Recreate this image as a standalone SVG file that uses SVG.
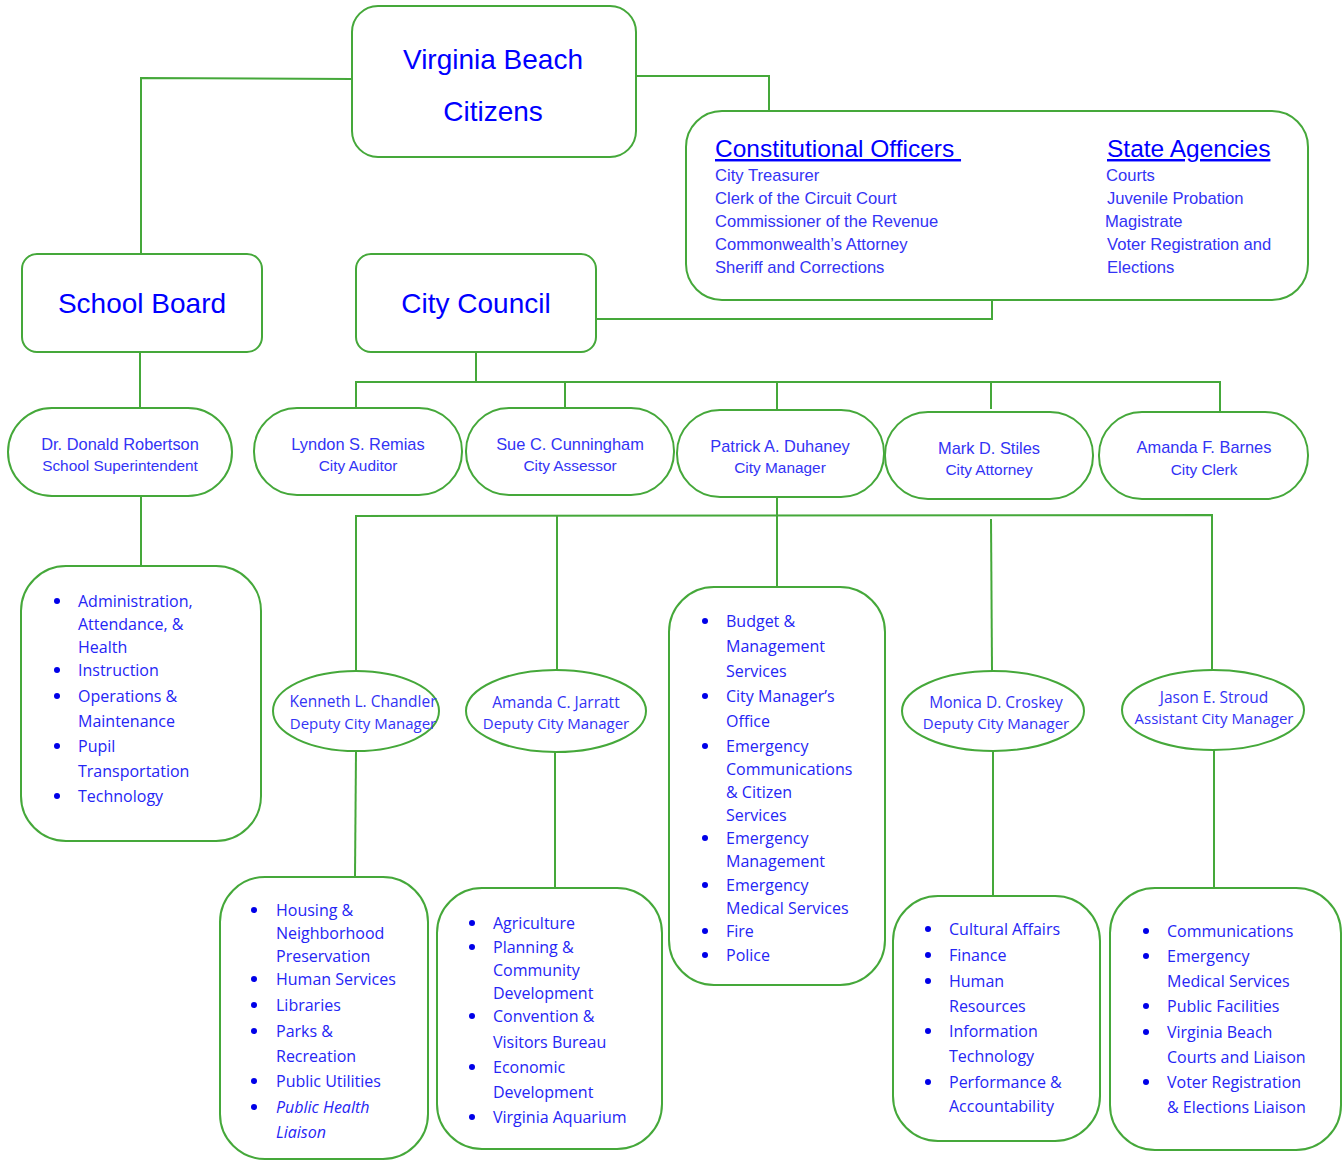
<svg xmlns="http://www.w3.org/2000/svg" width="1344" height="1160" viewBox="0 0 1344 1160">
<style>
.box{fill:#fff;stroke:#45A83A;stroke-width:2}
.ln{fill:none;stroke:#45A83A;stroke-width:2}
.big{font-family:"Liberation Sans",Arial,sans-serif;font-size:28px;fill:#0000FF;text-anchor:middle}
.hd{font-family:"Liberation Sans",Arial,sans-serif;font-size:24.5px;fill:#0000FF;text-decoration:underline}
.co{font-family:"Liberation Sans",Arial,sans-serif;font-size:16.6px;fill:#3333F5}
.nm{font-family:"Liberation Sans",Arial,sans-serif;font-size:16.4px;fill:#3333F5;text-anchor:middle}
.tt{font-family:"Liberation Sans",Arial,sans-serif;font-size:15.4px;fill:#3333F5;text-anchor:middle}
.en{font-family:"Open Sans",sans-serif;font-size:15.5px;fill:#3333F5;text-anchor:middle}
.et{font-family:"Open Sans",sans-serif;font-size:15px;fill:#3333F5;text-anchor:middle}
.li{font-family:"Open Sans",sans-serif;font-size:16px;fill:#2525F5}
.it{font-style:italic}
.bu{fill:#0000E8}
</style>
<g id="connectors">
<polyline class="ln" points="352,79 141,78 141,254"/>
<polyline class="ln" points="636,76 769,76 769,111"/>
<polyline class="ln" points="596,319 992,319 992,300"/>
<line class="ln" x1="140" y1="352" x2="140" y2="408"/>
<line class="ln" x1="141" y1="496" x2="141" y2="566"/>
<line class="ln" x1="476" y1="352" x2="476" y2="382"/>
<line class="ln" x1="355" y1="382" x2="1221" y2="382"/>
<line class="ln" x1="356" y1="382" x2="356" y2="408"/>
<line class="ln" x1="565" y1="382" x2="565" y2="408"/>
<line class="ln" x1="777" y1="382" x2="777" y2="410"/>
<line class="ln" x1="991" y1="382" x2="991" y2="409"/>
<line class="ln" x1="1220" y1="382" x2="1220" y2="412"/>
<line class="ln" x1="777" y1="497" x2="777" y2="587"/>
<polyline class="ln" points="356,671 356,516 1212,515 1212,671"/>
<line class="ln" x1="557" y1="516" x2="557" y2="670"/>
<line class="ln" x1="991" y1="519" x2="992" y2="671"/>
<line class="ln" x1="356" y1="751" x2="355" y2="877"/>
<line class="ln" x1="555" y1="752" x2="555" y2="888"/>
<line class="ln" x1="993" y1="750" x2="993" y2="896"/>
<line class="ln" x1="1214" y1="750" x2="1214" y2="888"/>
</g>
<g id="citizens">
<rect class="box" x="352" y="6" width="284" height="151" rx="26"/>
<text class="big" x="493" y="69">Virginia Beach</text>
<text class="big" x="493" y="121">Citizens</text>
</g>
<g id="constitutional">
<rect class="box" x="686" y="111" width="622" height="189" rx="36"/>
<text class="hd" x="715" y="157" xml:space="preserve">Constitutional Officers </text>
<text class="co" x="715" y="181">City Treasurer</text>
<text class="co" x="715" y="204">Clerk of the Circuit Court</text>
<text class="co" x="715" y="227">Commissioner of the Revenue</text>
<text class="co" x="715" y="250">Commonwealth’s Attorney</text>
<text class="co" x="715" y="273">Sheriff and Corrections</text>
<text class="hd" x="1107" y="157">State Agencies</text>
<text class="co" x="1106" y="181">Courts</text>
<text class="co" x="1107" y="204">Juvenile Probation</text>
<text class="co" x="1105" y="227">Magistrate</text>
<text class="co" x="1107" y="250">Voter Registration and</text>
<text class="co" x="1107" y="273">Elections</text>
</g>
<g id="school-board">
<rect class="box" x="22" y="254" width="240" height="98" rx="15"/>
<text class="big" x="142" y="313">School Board</text>
</g>
<g id="city-council">
<rect class="box" x="356" y="254" width="240" height="98" rx="15"/>
<text class="big" x="476" y="313">City Council</text>
</g>
<g id="superintendent">
<rect class="box" x="8" y="408" width="224" height="88" rx="44"/>
<text class="nm" x="120" y="450">Dr. Donald Robertson</text>
<text class="tt" x="120" y="471">School Superintendent</text>
</g>
<g id="auditor">
<rect class="box" x="254" y="408" width="208" height="87" rx="43"/>
<text class="nm" x="358" y="450">Lyndon S. Remias</text>
<text class="tt" x="358" y="471">City Auditor</text>
</g>
<g id="assessor">
<rect class="box" x="466" y="408" width="208" height="87" rx="43"/>
<text class="nm" x="570" y="450">Sue C. Cunningham</text>
<text class="tt" x="570" y="471">City Assessor</text>
</g>
<g id="manager">
<rect class="box" x="677" y="410" width="207" height="87" rx="43"/>
<text class="nm" x="780" y="452">Patrick A. Duhaney</text>
<text class="tt" x="780" y="473">City Manager</text>
</g>
<g id="attorney">
<rect class="box" x="885" y="412" width="208" height="87" rx="43"/>
<text class="nm" x="989" y="454">Mark D. Stiles</text>
<text class="tt" x="989" y="475">City Attorney</text>
</g>
<g id="clerk">
<rect class="box" x="1099" y="412" width="209" height="87" rx="43"/>
<text class="nm" x="1204" y="453">Amanda F. Barnes</text>
<text class="tt" x="1204" y="475">City Clerk</text>
</g>
<g id="school-list">
<rect class="box" x="21" y="566" width="240" height="275" rx="45"/>
<circle class="bu" cx="57" cy="601" r="3"/><circle class="bu" cx="57" cy="670" r="3"/><circle class="bu" cx="57" cy="696" r="3"/><circle class="bu" cx="57" cy="746" r="3"/><circle class="bu" cx="57" cy="796" r="3"/>
<text class="li" x="78" y="607">Administration,</text>
<text class="li" x="78" y="630">Attendance, &amp;</text>
<text class="li" x="78" y="653">Health</text>
<text class="li" x="78" y="676">Instruction</text>
<text class="li" x="78" y="702">Operations &amp;</text>
<text class="li" x="78" y="727">Maintenance</text>
<text class="li" x="78" y="752">Pupil</text>
<text class="li" x="78" y="777">Transportation</text>
<text class="li" x="78" y="802">Technology</text>
</g>
<g id="chandler">
<ellipse class="box" cx="356" cy="711" rx="83" ry="40"/>
<text class="en" x="363" y="707">Kenneth L. Chandler</text>
<text class="et" x="363" y="729">Deputy City Manager</text>
</g>
<g id="jarrett">
<ellipse class="box" cx="556" cy="711" rx="90" ry="41"/>
<text class="en" x="556" y="708">Amanda C. Jarratt</text>
<text class="et" x="556" y="729">Deputy City Manager</text>
</g>
<g id="croskey">
<ellipse class="box" cx="993" cy="711" rx="91" ry="40"/>
<text class="en" x="996" y="708">Monica D. Croskey</text>
<text class="et" x="996" y="729">Deputy City Manager</text>
</g>
<g id="stroud">
<ellipse class="box" cx="1213" cy="710" rx="91" ry="40"/>
<text class="en" x="1214" y="703">Jason E. Stroud</text>
<text class="et" x="1214" y="724">Assistant City Manager</text>
</g>
<g id="cm-list">
<rect class="box" x="669" y="587" width="216" height="398" rx="45"/>
<circle class="bu" cx="705" cy="621" r="3"/><circle class="bu" cx="705" cy="696" r="3"/><circle class="bu" cx="705" cy="746" r="3"/><circle class="bu" cx="705" cy="838" r="3"/><circle class="bu" cx="705" cy="885" r="3"/><circle class="bu" cx="705" cy="931" r="3"/><circle class="bu" cx="705" cy="955" r="3"/>
<text class="li" x="726" y="627">Budget &amp;</text>
<text class="li" x="726" y="652">Management</text>
<text class="li" x="726" y="677">Services</text>
<text class="li" x="726" y="702">City Manager’s</text>
<text class="li" x="726" y="727">Office</text>
<text class="li" x="726" y="752">Emergency</text>
<text class="li" x="726" y="775">Communications</text>
<text class="li" x="726" y="798">&amp; Citizen</text>
<text class="li" x="726" y="821">Services</text>
<text class="li" x="726" y="844">Emergency</text>
<text class="li" x="726" y="867">Management</text>
<text class="li" x="726" y="891">Emergency</text>
<text class="li" x="726" y="914">Medical Services</text>
<text class="li" x="726" y="937">Fire</text>
<text class="li" x="726" y="961">Police</text>
</g>
<g id="chandler-list">
<rect class="box" x="220" y="877" width="208" height="282" rx="45"/>
<circle class="bu" cx="254" cy="910" r="3"/><circle class="bu" cx="254" cy="979" r="3"/><circle class="bu" cx="254" cy="1005" r="3"/><circle class="bu" cx="254" cy="1031" r="3"/><circle class="bu" cx="254" cy="1081" r="3"/><circle class="bu" cx="254" cy="1107" r="3"/>
<text class="li" x="276" y="916">Housing &amp;</text>
<text class="li" x="276" y="939">Neighborhood</text>
<text class="li" x="276" y="962">Preservation</text>
<text class="li" x="276" y="985">Human Services</text>
<text class="li" x="276" y="1011">Libraries</text>
<text class="li" x="276" y="1037">Parks &amp;</text>
<text class="li" x="276" y="1062">Recreation</text>
<text class="li" x="276" y="1087">Public Utilities</text>
<text class="li it" x="276" y="1113">Public Health</text>
<text class="li it" x="276" y="1138">Liaison</text>
</g>
<g id="jarrett-list">
<rect class="box" x="437" y="888" width="225" height="261" rx="45"/>
<circle class="bu" cx="472" cy="923" r="3"/><circle class="bu" cx="472" cy="947" r="3"/><circle class="bu" cx="472" cy="1016" r="3"/><circle class="bu" cx="472" cy="1067" r="3"/><circle class="bu" cx="472" cy="1117" r="3"/>
<text class="li" x="493" y="929">Agriculture</text>
<text class="li" x="493" y="953">Planning &amp;</text>
<text class="li" x="493" y="976">Community</text>
<text class="li" x="493" y="999">Development</text>
<text class="li" x="493" y="1022">Convention &amp;</text>
<text class="li" x="493" y="1048">Visitors Bureau</text>
<text class="li" x="493" y="1073">Economic</text>
<text class="li" x="493" y="1098">Development</text>
<text class="li" x="493" y="1123">Virginia Aquarium</text>
</g>
<g id="croskey-list">
<rect class="box" x="893" y="896" width="207" height="245" rx="45"/>
<circle class="bu" cx="928" cy="929" r="3"/><circle class="bu" cx="928" cy="955" r="3"/><circle class="bu" cx="928" cy="981" r="3"/><circle class="bu" cx="928" cy="1031" r="3"/><circle class="bu" cx="928" cy="1082" r="3"/>
<text class="li" x="949" y="935">Cultural Affairs</text>
<text class="li" x="949" y="961">Finance</text>
<text class="li" x="949" y="987">Human</text>
<text class="li" x="949" y="1012">Resources</text>
<text class="li" x="949" y="1037">Information</text>
<text class="li" x="949" y="1062">Technology</text>
<text class="li" x="949" y="1088">Performance &amp;</text>
<text class="li" x="949" y="1112">Accountability</text>
</g>
<g id="stroud-list">
<rect class="box" x="1110" y="888" width="231" height="262" rx="45"/>
<circle class="bu" cx="1146" cy="931" r="3"/><circle class="bu" cx="1146" cy="956" r="3"/><circle class="bu" cx="1146" cy="1006" r="3"/><circle class="bu" cx="1146" cy="1032" r="3"/><circle class="bu" cx="1146" cy="1082" r="3"/>
<text class="li" x="1167" y="937">Communications</text>
<text class="li" x="1167" y="962">Emergency</text>
<text class="li" x="1167" y="987">Medical Services</text>
<text class="li" x="1167" y="1012">Public Facilities</text>
<text class="li" x="1167" y="1038">Virginia Beach</text>
<text class="li" x="1167" y="1063">Courts and Liaison</text>
<text class="li" x="1167" y="1088">Voter Registration</text>
<text class="li" x="1167" y="1113">&amp; Elections Liaison</text>
</g>
</svg>
